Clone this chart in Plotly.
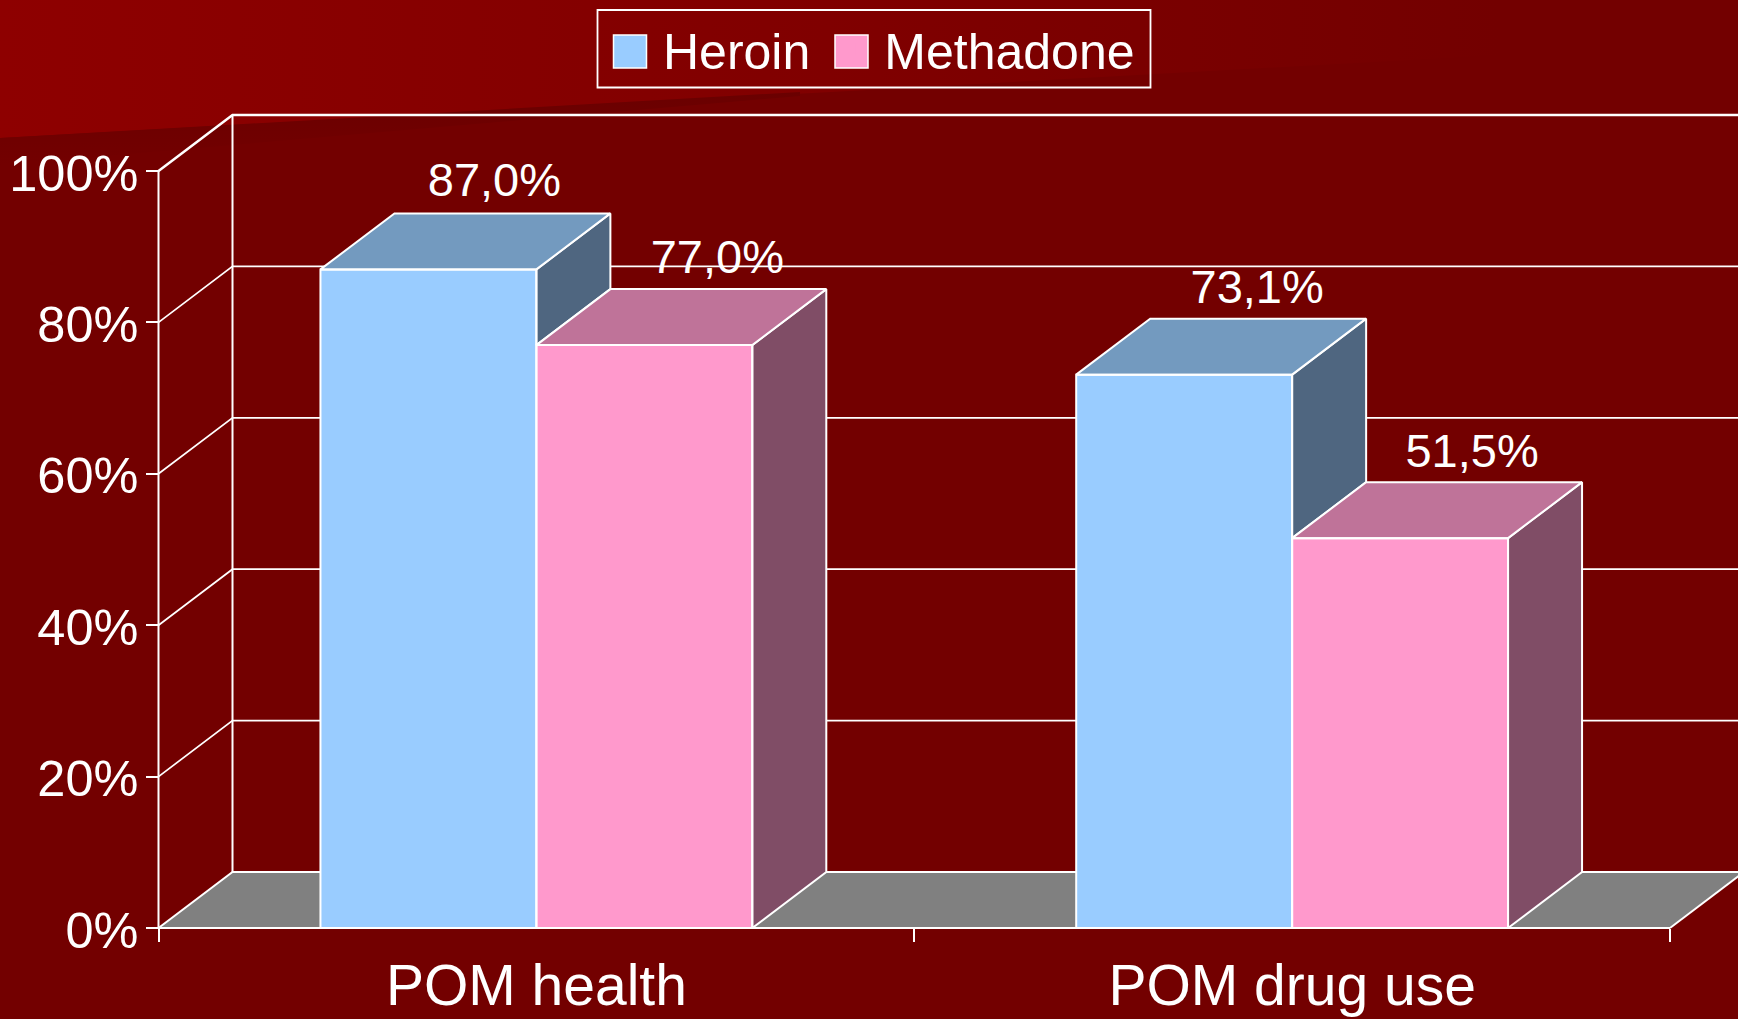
import plotly.graph_objects as go

CATEGORIES = ["POM health", "POM drug use"]
HEROIN = [87.0, 73.1]
METHADONE = [77.0, 51.5]
Y_TICKS = [0, 20, 40, 60, 80, 100]
Y_LABELS = ["0%", "20%", "40%", "60%", "80%", "100%"]
SERIES_NAMES = ["Heroin", "Methadone"]

W, H = 1738, 1019
X0_PX, Y0_PX = 158.5, 928.0
PX_PER_CAT = 755.75
PX_PER_PCT = 7.57
DX = 74 / PX_PER_CAT
DY = 56 / PX_PER_PCT
BAR_W = 1 / 3.5
FONT = "Liberation Sans"
BG = "#730000"
LW = 2
COL = {"front": ["#99ccff", "#ff99cc"], "top": ["#739abf", "#bf7399"], "side": ["#4f6680", "#804d66"]}


def ux(px):
    return (px - X0_PX) / PX_PER_CAT


def uy(py):
    return (Y0_PX - py) / PX_PER_PCT


X_RANGE = [ux(0), ux(W)]
Y_RANGE = [uy(H), uy(0)]

fig = go.Figure()


def poly(xs, ys, fill, axes="", width=LW, line="white"):
    fig.add_trace(go.Scatter(
        x=xs, y=ys, mode="lines", fill="toself" if fill else None, fillcolor=fill,
        line=dict(color=line, width=width), hoverinfo="skip", showlegend=False,
        xaxis="x" + axes, yaxis="y" + axes))


# slide background decoration
fig.add_trace(go.Scatter(
    x=[ux(0), ux(1500), ux(1500), ux(0), ux(0)], y=[uy(0), uy(0), uy(55), uy(138), uy(0)],
    mode="lines", fill="toself", line=dict(width=0, color="rgba(0,0,0,0)"),
    fillgradient=dict(type="horizontal", colorscale=[[0, "#8e0000"], [0.55, "#800000"], [1, BG]]),
    hoverinfo="skip", showlegend=False))
fig.add_trace(go.Scatter(
    x=[ux(0), ux(800), ux(800), ux(0), ux(0)], y=[uy(138), uy(92), uy(96), uy(165), uy(138)],
    mode="lines", fill="toself", line=dict(width=0, color="rgba(0,0,0,0)"),
    fillgradient=dict(type="vertical", colorscale=[[0, BG], [1, "#6a0000"]]),
    hoverinfo="skip", showlegend=False))

# floor
poly([0, 2, 2 + DX, DX, 0], [0, 0, DY, DY, 0], "#808080", width=0.1, line="#808080")
poly([0, DX, X_RANGE[1]], [0, DY, DY], None)
poly([2, 2 + DX], [0, DY], None)
# walls and gridlines
for t in Y_TICKS[1:]:
    poly([0, DX, X_RANGE[1]], [t, t + DY, t + DY], None, width=LW + 0.5 if t == Y_TICKS[-1] else 1.7)
poly([0, 0], [0, Y_TICKS[-1]], None)
poly([DX, DX], [DY, Y_TICKS[-1] + DY], None)
poly([0, 2], [0, 0], None)

# front faces, real bars
for name, vals, c in zip(SERIES_NAMES, [HEROIN, METHADONE], COL["front"]):
    fig.add_trace(go.Bar(
        x=[0.5, 1.5], y=vals, name=name, marker=dict(color=c, line=dict(width=0)),
        xaxis="x2", yaxis="y2", hoverinfo="skip"))

# depth faces and outlines
for i in range(len(CATEGORIES)):
    c = i + 0.5
    h, m = HEROIN[i], METHADONE[i]
    l, mid, r = c - BAR_W, c, c + BAR_W
    for s, (a, b, v, low) in enumerate([(l, mid, h, m), (mid, r, m, 0)]):
        poly([b, b + DX, b + DX, b, b], [v, v + DY, low + DY, low, v], COL["side"][s], "2")
        poly([a, a + DX, b + DX, b, a], [v, v + DY, v + DY, v, v], COL["top"][s], "2")
        poly([a, a, b, b, a], [0, v, v, 0, 0], None, "2")

# data labels
LABEL_SHIFT_PX = [66, 73, 73, 72]
LABEL_RISE_PX = [29, 28, 27, 27]
lx, ly, lt, k = [], [], [], 0
for i in range(len(CATEGORIES)):
    for off, v in zip([-BAR_W / 2, BAR_W / 2], [HEROIN[i], METHADONE[i]]):
        lx.append(i + 0.5 + off + LABEL_SHIFT_PX[k] / PX_PER_CAT)
        ly.append(v + DY + LABEL_RISE_PX[k] / PX_PER_PCT)
        lt.append(f"{v:.1f}%".replace(".", ","))
        k += 1
fig.add_trace(go.Scatter(
    x=lx, y=ly, text=lt, mode="text", textposition="middle center",
    textfont=dict(family=FONT, size=47, color="white"),
    hoverinfo="skip", showlegend=False, xaxis="x2", yaxis="y2"))

# legend frame and swatches sit behind the real legend
shapes = [dict(type="rect", xref="paper", yref="paper", x0=597.5 / W, x1=1150.5 / W,
               y0=1 - 87.5 / H, y1=1 - 10 / H, line=dict(color="white", width=1.8), layer="above")]
for x0, c in zip([613.5, 835], COL["front"]):
    shapes.append(dict(type="rect", xref="paper", yref="paper", x0=x0 / W, x1=(x0 + 33) / W,
                       y0=1 - 68 / H, y1=1 - 35 / H, fillcolor=c,
                       line=dict(color="white", width=1.5), layer="above"))

axis_font = dict(family=FONT, size=50.5, color="white")
fig.update_layout(
    width=W, height=H, margin=dict(l=0, r=0, t=0, b=0, pad=0, autoexpand=False),
    paper_bgcolor=BG, plot_bgcolor="rgba(0,0,0,0)",
    barmode="group", bargap=1 - 2 * BAR_W, bargroupgap=0,
    shapes=shapes,
    showlegend=True,
    legend=dict(orientation="h", x=594 / W, xanchor="left", y=1 - 10 / H, yanchor="top",
                itemwidth=59, bgcolor="rgba(0,0,0,0)", borderwidth=0,
                font=dict(family=FONT, size=50, color="white"),
                traceorder="normal", itemclick=False, itemdoubleclick=False),
    xaxis=dict(domain=[0, 1], range=X_RANGE, anchor="free", position=(H - Y0_PX) / H,
               showgrid=False, zeroline=False, showline=False,
               tickmode="array", tickvals=[0.5, 1.5], ticktext=CATEGORIES, ticks="", ticklen=0,
               tickfont=dict(family=FONT, size=57, color="white"), ticklabelstandoff=19,
               minor=dict(tickmode="array", tickvals=[0, 1, 2], ticks="outside", ticklen=13,
                          tickwidth=1.7, tickcolor="white", showgrid=False)),
    yaxis=dict(domain=[0, 1], range=Y_RANGE, anchor="free", position=X0_PX / W,
               showgrid=False, zeroline=False, showline=False,
               tickmode="array", tickvals=Y_TICKS, ticktext=Y_LABELS, ticks="outside", ticklen=13,
               tickwidth=1.7, tickcolor="white", tickfont=axis_font, ticklabelstandoff=-3,
               ticklabelshift=2),
    xaxis2=dict(overlaying="x", range=X_RANGE, visible=False, anchor="y2"),
    yaxis2=dict(overlaying="y", range=Y_RANGE, visible=False, anchor="x2"),
)

fig.write_html("out.html", config=dict(displayModeBar=False, responsive=False),
               post_script="document.body.style.margin='0';document.body.style.background='%s';" % BG)
